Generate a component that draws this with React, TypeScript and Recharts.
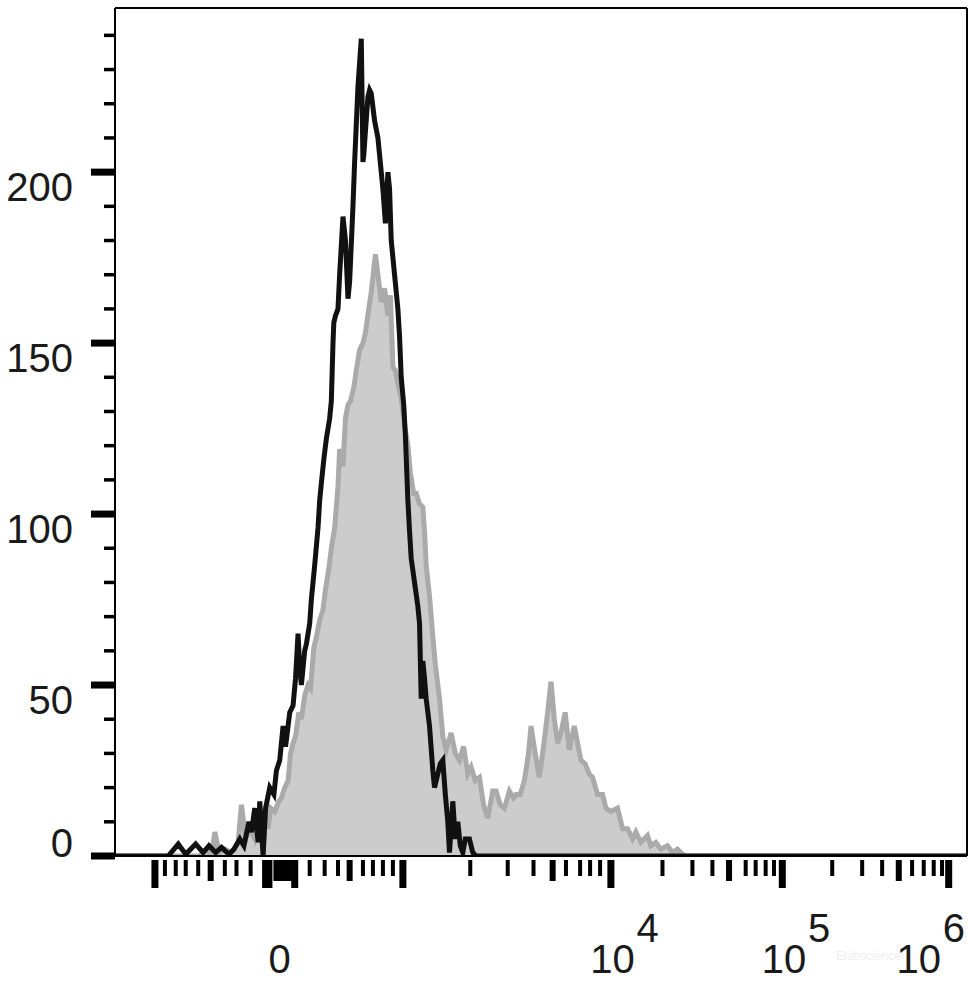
import React from 'react';
import { ComposedChart, Area, Line, XAxis, YAxis, ReferenceLine } from 'recharts';

// Black (unfilled) histogram: channel -> count
const blackChannel = [0, 64, 76, 85, 97, 106, 113, 121, 128, 137, 143, 150, 155, 161, 164, 168, 172, 174, 178, 181, 186, 191, 194, 198, 202, 205, 210, 214, 217, 220, 222, 224, 228, 230, 234, 236, 240, 244, 246, 248, 251, 254, 258, 260, 262, 263, 265, 268, 270, 274, 277, 280, 282, 286, 288, 292, 294, 296, 298, 299, 301, 304, 306, 308, 312, 316, 318, 322, 325, 328, 330, 332, 336, 340, 342, 344, 347, 349, 352, 354, 356, 360, 364, 366, 368, 370, 372, 374, 378, 382, 384, 388, 391, 394, 397, 400, 402, 406, 409, 412, 415, 418, 421, 426, 430, 434, 1024];
const blackCount = [0, 0, 3.5, 0.5, 3.5, 1, 3, 1, 2.5, 0.5, 2, 5, 3, 10, 7, 14, 4, 16, 0, 14, 20, 18, 25, 28, 38, 32, 42, 44, 52, 65, 55, 50, 60, 62, 68, 75, 85, 96, 104, 109, 116, 122, 128, 133, 150, 156, 158, 160, 170, 187, 180, 163, 168, 190, 203, 225, 232, 239, 203, 205, 212, 222, 224, 223, 215, 210, 205, 195, 185, 200, 195, 180, 170, 160, 152, 140, 132, 123, 104, 95, 87, 80, 73, 68, 46, 57, 52, 46, 38, 25, 20, 24, 27, 28, 18, 10, 1, 16, 5, 10, 3, 1, 5, 5, 1, 0, 0];

// Gray (filled) histogram: channel -> count
const grayChannel = [0, 102, 110, 116, 120, 125, 132, 140, 148, 152, 157, 162, 168, 172, 176, 180, 184, 187, 192, 197, 200, 204, 208, 211, 214, 217, 221, 224, 228, 232, 235, 239, 242, 246, 250, 253, 257, 260, 264, 268, 270, 274, 277, 280, 283, 287, 290, 294, 298, 301, 305, 308, 313, 317, 320, 324, 328, 331, 334, 337, 341, 344, 348, 352, 355, 359, 362, 366, 370, 372, 374, 378, 382, 385, 390, 394, 398, 404, 409, 414, 419, 424, 428, 433, 438, 443, 448, 454, 458, 463, 468, 474, 479, 482, 487, 492, 497, 500, 505, 510, 515, 520, 524, 528, 532, 536, 541, 546, 552, 556, 560, 565, 570, 574, 580, 586, 590, 596, 604, 610, 616, 622, 626, 632, 640, 644, 650, 656, 664, 670, 676, 682, 686, 1024];
const grayCount = [0, 0, 2, 0, 7, 1, 2, 1, 4, 15, 5, 8, 5, 10, 4, 12, 8, 14, 13, 16, 17, 20, 22, 30, 33, 35, 42, 40, 47, 50, 49, 61, 64, 69, 72, 78, 84, 90, 96, 108, 119, 114, 128, 132, 133, 137, 142, 148, 150, 153, 160, 165, 176, 168, 162, 166, 158, 164, 143, 142, 137, 134, 126, 120, 112, 106, 106, 103, 102, 95, 85, 76, 64, 56, 46, 35, 31, 36, 30, 28, 32, 24, 26, 22, 23, 15, 11, 19, 19, 15, 14, 19, 17, 18, 18, 22, 30, 38, 30, 23, 32, 42, 51, 40, 33, 36, 42, 31, 38, 33, 28, 27, 24, 23, 18, 18, 14, 13, 14, 8, 8, 5, 7, 4, 6, 3, 4, 2, 3, 1, 2, 0.5, 0, 0];

// Axis ticks
const yMax = 248;
const yTicks = [0, 10, 20, 30, 40, 50, 60, 70, 80, 90, 100, 110, 120, 130, 140, 150, 160, 170, 180, 190, 200, 210, 220, 230, 240];
const yLabelledTicks = [0, 50, 100, 150, 200];

const xMax = 1024;
const xMajorTicks = [48, 181, 185, 216, 346, 596, 802, 1002];
const xMediumTicks = [115, 194, 199, 205, 209, 282, 526, 738, 942];
const xMinorTicks = [60, 73, 85, 100, 132, 146, 163, 234, 252, 268, 298, 310, 322, 334, 427, 472, 503, 542, 559, 571, 583, 658, 694, 718, 758, 770, 782, 792, 862, 898, 922, 958, 972, 984, 994];
const xLabelPositions = [198, 598, 804, 966];
const xLabelBases = ['0', '10', '10', '10'];
const xLabelExponents = ['', '4', '5', '6'];

const blackData = blackChannel.map((ch, i) => ({ ch, count: blackCount[i] }));
const grayData = grayChannel.map((ch, i) => ({ ch, count: grayCount[i] }));
const xAllTicks = Array.from(new Set([...xMajorTicks, ...xMediumTicks, ...xMinorTicks, ...xLabelPositions])).sort((a, b) => a - b);

const FONT = '"Liberation Sans", Arial, Helvetica, sans-serif';
const INK = '#1a1a1a';

const XTick = (props: any) => {
  const { x, y, payload } = props;
  const v = payload.value;
  const els: React.ReactNode[] = [];
  if (xMajorTicks.includes(v)) {
    els.push(<rect key="m" x={x - 3.5} y={y + 4} width={7} height={28} fill="#000" />);
  } else if (xMediumTicks.includes(v)) {
    els.push(<rect key="m" x={x - 3} y={y + 4} width={6} height={21} fill="#000" />);
  } else if (xMinorTicks.includes(v)) {
    els.push(<rect key="m" x={x - 2} y={y + 4} width={4} height={16} fill="#000" />);
  }
  const li = xLabelPositions.indexOf(v);
  if (li >= 0) {
    els.push(
      <text key="b" x={x} y={y + 117} textAnchor="middle" fontFamily={FONT} fontSize={40} fill={INK}>
        {xLabelBases[li]}
      </text>
    );
    if (xLabelExponents[li]) {
      els.push(
        <text key="e" x={x + 24} y={y + 86} textAnchor="start" fontFamily={FONT} fontSize={40} fill={INK}>
          {xLabelExponents[li]}
        </text>
      );
    }
  }
  return <g>{els}</g>;
};

const YTick = (props: any) => {
  const { x, y, payload } = props;
  const v = payload.value;
  const major = yLabelledTicks.includes(v);
  return (
    <g>
      {major ? (
        <rect x={x - 24} y={y - 3.5} width={24} height={7} fill="#000" />
      ) : (
        <rect x={x - 11} y={y - 1.75} width={11} height={3.5} fill="#000" />
      )}
      {major && (
        <text x={x - 42} y={v === 0 ? y + 1 : y + 29} textAnchor="end" fontFamily={FONT} fontSize={40} fill={INK}>
          {v}
        </text>
      )}
    </g>
  );
};

export default function App() {
  return (
    <div style={{ position: 'absolute', left: 0, top: 0, width: 977, height: 984, background: '#fff' }}>
      <ComposedChart width={977} height={984} margin={{ top: 8, right: 10, bottom: 0, left: 0 }}>
        <XAxis
          type="number"
          dataKey="ch"
          domain={[0, xMax]}
          ticks={xAllTicks}
          interval={0}
          tick={<XTick />}
          tickLine={false}
          tickSize={0}
          tickMargin={0}
          height={128}
          axisLine={{ stroke: '#000', strokeWidth: 2 }}
          allowDataOverflow
        />
        <YAxis
          type="number"
          domain={[0, yMax]}
          ticks={yTicks}
          interval={0}
          tick={<YTick />}
          tickLine={false}
          tickSize={0}
          tickMargin={0}
          width={115}
          axisLine={{ stroke: '#000', strokeWidth: 2 }}
          allowDataOverflow
        />
        <ReferenceLine y={yMax} stroke="#000" strokeWidth={2} />
        <ReferenceLine x={xMax} stroke="#000" strokeWidth={2} />
        <Area
          data={grayData}
          dataKey="count"
          type="linear"
          stroke="#aaaaaa"
          strokeWidth={5}
          fill="#cccccc"
          fillOpacity={1}
          isAnimationActive={false}
          dot={false}
          activeDot={false}
        />
        <Line
          data={blackData}
          dataKey="count"
          type="linear"
          stroke="#111111"
          strokeWidth={5}
          dot={false}
          activeDot={false}
          isAnimationActive={false}
        />
      </ComposedChart>
      <div
        style={{
          position: 'absolute',
          left: 836,
          top: 950,
          fontFamily: FONT,
          fontSize: 12,
          lineHeight: 1,
          color: '#eeeeee',
          pointerEvents: 'none',
        }}
      >
        Elabscience
      </div>
    </div>
  );
}
